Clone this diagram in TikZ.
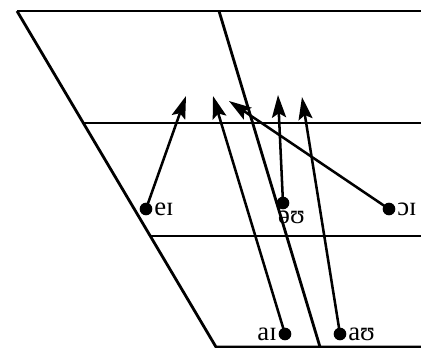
\documentclass[tikz,border=0pt]{standalone}
\usepackage{fontspec}
\setmainfont{Liberation Serif}
\usetikzlibrary{arrows.meta}

\tikzset{
  chart/.style={line width=2pt},
  glide/.style={line width=1.8pt,-{Stealth[length=16pt,width=10pt,inset=3pt]}},
  vdot/.style={circle,fill=black,inner sep=0pt,minimum size=9pt},
  ipa/.style={font=\fontsize{19}{20}\selectfont,inner sep=1pt}
}

\begin{document}
\begin{tikzpicture}[x=0.025cm,y=-0.025cm]
\useasboundingbox (0,0) rectangle (421,348);
\begin{scope}
\clip (0,0) rectangle (421,348);
% chart frame
\draw[chart] (17,11) -- (450,11);
\draw[chart] (17,11) -- (216,347) -- (450,347);
\draw[chart] (83,123) -- (450,123);
\draw[chart] (151,236) -- (450,236);
\draw[chart] (219,11) -- (320,347);
% diphthong starting points
\node[vdot] (ei) at (146,209) {};
\node[vdot] (ou) at (283,203) {};
\node[vdot] (oi) at (389,209) {};
\node[vdot] (ai) at (285,334) {};
\node[vdot] (au) at (340,334) {};
\node[ipa,anchor=west] (eilab) at (ei.east) {eɪ};
\node[ipa,anchor=north] (oulab) at ([xshift=6pt]ou.south) {əʊ};
\node[ipa,anchor=west] (oilab) at (oi.east) {ɔɪ};
\node[ipa,anchor=east] (ailab) at (ai.west) {aɪ};
\node[ipa,anchor=west] (aulab) at (au.east) {aʊ};
% glide targets
\coordinate (eiend) at (186,96);
\coordinate (aiend) at (213,96);
\coordinate (oiend) at (229,101);
\coordinate (ouend) at (278,95);
\coordinate (auend) at (302,97);
\draw[glide] (ei.center) -- (eiend);
\draw[glide] (ai.center) -- (aiend);
\draw[glide] (oi.center) -- (oiend);
\draw[glide] (ou.center) -- (ouend);
\draw[glide] (au.center) -- (auend);
\end{scope}
\end{tikzpicture}
\end{document}
